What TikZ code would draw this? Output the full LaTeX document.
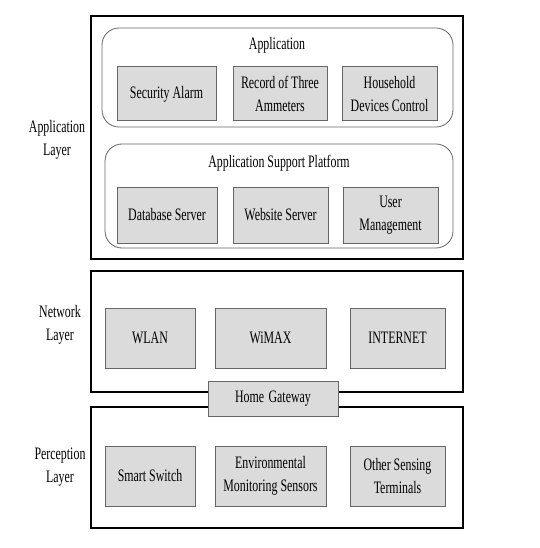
\documentclass[tikz,border=0pt]{standalone}
\usepackage{fontspec}
\setmainfont{Liberation Serif}[FakeStretch=0.68]
\begin{document}
\begin{tikzpicture}[x=1pt,y=-1pt,
  every node/.style={font=\fontsize{17.5}{23}\selectfont},
  layerbox/.style={draw=black, line width=1.6pt, fill=white, inner sep=0pt},
  groupbox/.style={draw=black!60, line width=0.8pt, rounded corners=17pt, inner sep=0pt},
  itembox/.style={draw=black!60, line width=1pt, fill=black!14, inner sep=0pt, align=center},
  lbl/.style={align=center, inner sep=0pt}]
\useasboundingbox (0,0) rectangle (539,548);
\fill[white] (0,0) rectangle (539,548);
% layers
\node[layerbox, minimum width=372pt, minimum height=243pt] (applayer) at (277,137.5) {};
\node[layerbox, minimum width=372pt, minimum height=121pt] (netlayer) at (277,331.5) {};
\node[layerbox, minimum width=372pt, minimum height=121pt] (perclayer) at (277,467.5) {};
% groups
\node[groupbox, minimum width=351pt, minimum height=99pt] (appgroup) at (277.5,77.5) {};
\node[groupbox, minimum width=348pt, minimum height=104pt] (supgroup) at (279,196) {};
\node[lbl] (apptitle) at (277,45) {Application};
\node[lbl] (suptitle) at (279,163) {Application Support Platform};
% application items
\node[itembox, minimum width=99pt, minimum height=54pt] (alarm) at (166.5,94) {Security Alarm};
\node[itembox, minimum width=94pt, minimum height=54pt] (ammeter) at (280,94) {Record of Three\\Ammeters};
\node[itembox, minimum width=95pt, minimum height=54pt] (devices) at (389.5,94) {Household\\Devices Control};
\node[itembox, minimum width=100pt, minimum height=56pt] (dbserver) at (167,215) {Database Server};
\node[itembox, minimum width=95pt, minimum height=56pt] (webserver) at (280.5,215) {Website Server};
\node[itembox, minimum width=95pt, minimum height=56pt] (usermgmt) at (390.5,215) {User\\Management};
% network items
\node[itembox, minimum width=90pt, minimum height=60pt] (wlan) at (150,338) {WLAN};
\node[itembox, minimum width=111pt, minimum height=60pt] (wimax) at (270.5,338) {WiMAX};
\node[itembox, minimum width=95pt, minimum height=60pt] (internet) at (397.5,338) {INTERNET};
% perception items
\node[itembox, minimum width=90pt, minimum height=60pt] (switch) at (150,476) {Smart Switch};
\node[itembox, minimum width=111pt, minimum height=60pt] (envsensors) at (270.5,476) {Environmental\\Monitoring Sensors};
\node[itembox, minimum width=95pt, minimum height=60pt] (otherterm) at (397.5,476) {Other Sensing\\Terminals};
% gateway
\node[itembox, minimum width=130pt, minimum height=35pt] (gateway) at (273,398.5) {Home\hspace{0.25em}Gateway};
% layer labels
\node[lbl] (applabel) at (57,140) {Application\\Layer};
\node[lbl] (netlabel) at (60,325) {Network\\Layer};
\node[lbl] (perclabel) at (60,467) {Perception\\Layer};
\end{tikzpicture}
\end{document}
